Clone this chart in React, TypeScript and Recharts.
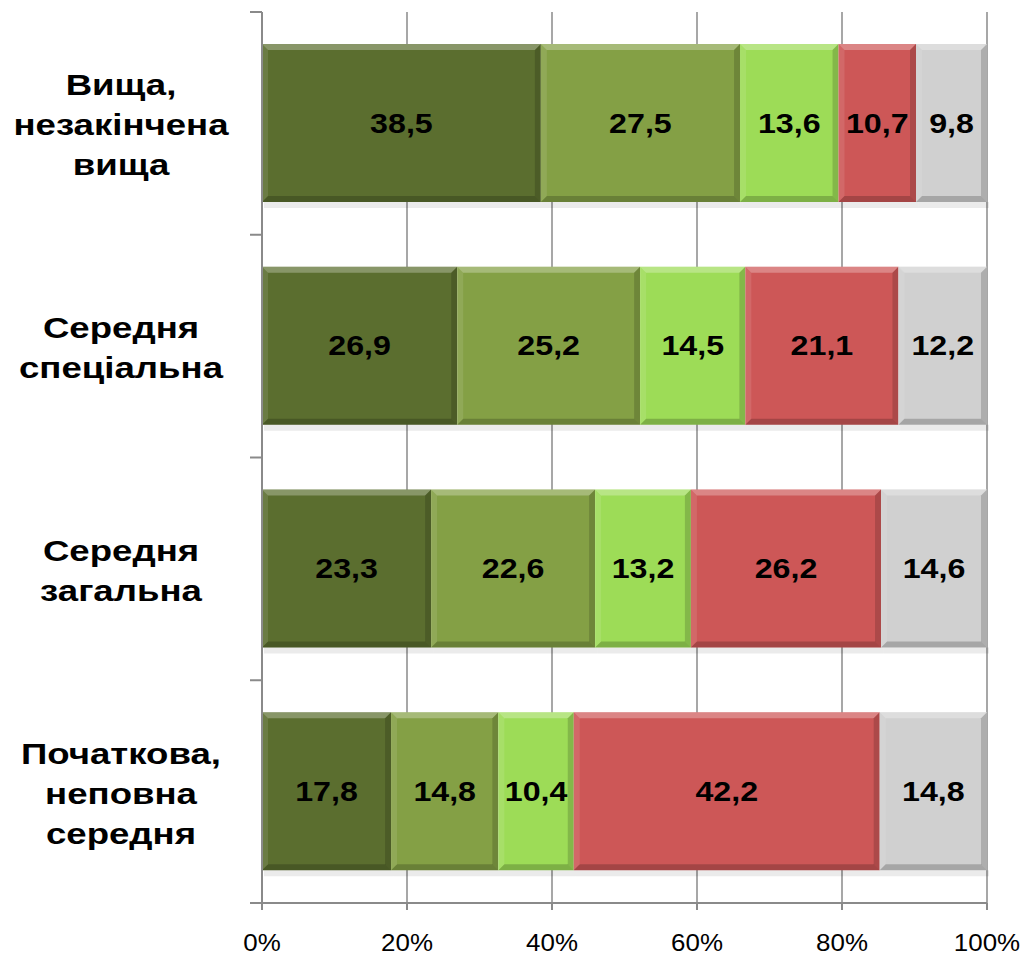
import { BarChart, Bar, XAxis, YAxis, CartesianGrid, LabelList } from "recharts";

const categories = [
  ["Вища,", "незакінчена", "вища"],
  ["Середня", "спеціальна"],
  ["Середня", "загальна"],
  ["Початкова,", "неповна", "середня"],
];

const s1 = [38.5, 26.9, 23.3, 17.8];
const s2 = [27.5, 25.2, 22.6, 14.8];
const s3 = [13.6, 14.5, 13.2, 10.4];
const s4 = [10.7, 21.1, 26.2, 42.2];
const s5 = [9.8, 12.2, 14.6, 14.8];

const xTicks = [0, 0.2, 0.4, 0.6, 0.8, 1];

const seriesKeys = ["s1", "s2", "s3", "s4", "s5"];
const colors = ["#5b6e2f", "#84a045", "#9ddc57", "#cd5757", "#d0d0d0"];

const data = categories.map((lines, i) => ({
  name: lines.join(" "),
  lines,
  s1: s1[i],
  s2: s2[i],
  s3: s3[i],
  s4: s4[i],
  s5: s5[i],
}));

const FONT = '"Liberation Sans", Arial, sans-serif';
const AXIS = "#8a8a8a";
const W = 1024;
const H = 955;
const M = { top: 12, right: 37, bottom: 0, left: 0 };
const X_AXIS_H = 52;
const BAND = (H - M.top - M.bottom - X_AXIS_H) / categories.length;

function BevelBar(props: any) {
  const { x, y, width, height, fill } = props;
  if (!width || width <= 0) return null;
  const b = 6;
  return (
    <g>
      <rect x={x + 2} y={y + height} width={width} height={6} fill="#000" opacity={0.08} />
      <rect x={x} y={y} width={width} height={height} fill={fill} />
      <polygon
        points={`${x},${y} ${x + width},${y} ${x + width - b},${y + b} ${x + b},${y + b}`}
        fill="#fff"
        opacity={0.28}
      />
      <polygon
        points={`${x},${y} ${x + b},${y + b} ${x + b},${y + height - b} ${x},${y + height}`}
        fill="#fff"
        opacity={0.1}
      />
      <polygon
        points={`${x},${y + height} ${x + b},${y + height - b} ${x + width - b},${y + height - b} ${x + width},${y + height}`}
        fill="#000"
        opacity={0.2}
      />
      <polygon
        points={`${x + width},${y} ${x + width - b},${y + b} ${x + width - b},${y + height - b} ${x + width},${y + height}`}
        fill="#000"
        opacity={0.16}
      />
    </g>
  );
}

function CategoryTick(props: any) {
  const { y, payload, index } = props;
  const lines: string[] = data[index]?.lines ?? [String(payload.value)];
  const lh = 40;
  const startY = y - ((lines.length - 1) * lh) / 2 + 12;
  return (
    <g>
      <line x1={250} x2={262} y1={y - BAND / 2} y2={y - BAND / 2} stroke={AXIS} strokeWidth={2} />
      {index === categories.length - 1 && (
        <line x1={250} x2={262} y1={y + BAND / 2} y2={y + BAND / 2} stroke={AXIS} strokeWidth={2} />
      )}
      <text
        transform={`translate(121,0) scale(1.22,1)`}
        textAnchor="middle"
        fontFamily={FONT}
        fontWeight="bold"
        fontSize={30}
        fill="#000"
      >
        {lines.map((l, i) => (
          <tspan key={i} x={0} y={startY + i * lh}>
            {l}
          </tspan>
        ))}
      </text>
    </g>
  );
}

function PercentTick(props: any) {
  const { x, y, payload } = props;
  return (
    <text
      transform={`translate(${x},${y}) scale(1.08,1)`}
      textAnchor="middle"
      dy="0.71em"
      fontFamily={FONT}
      fontSize={24}
      fill="#000"
    >
      {`${Math.round(payload.value * 100)}%`}
    </text>
  );
}

function ValueLabel(props: any) {
  const { x, y, width, height, value } = props;
  const cx = x + width / 2;
  const cy = y + height / 2;
  return (
    <text
      transform={`translate(${cx},${cy}) scale(1.15,1)`}
      textAnchor="middle"
      dominantBaseline="central"
      fontFamily={FONT}
      fontWeight="bold"
      fontSize={28}
      fill="#000"
    >
      {String(value).replace(".", ",")}
    </text>
  );
}

export default function App() {
  return (
    <div style={{ position: "absolute", left: 0, top: 0, width: W, height: H, background: "#fff" }}>
      <BarChart
        width={W}
        height={H}
        data={data}
        layout="vertical"
        stackOffset="expand"
        barSize={158}
        margin={M}
      >
        <CartesianGrid horizontal={false} stroke={AXIS} strokeWidth={1.5} />
        <XAxis
          type="number"
          domain={[0, 1]}
          ticks={xTicks}
          height={X_AXIS_H}
          tickSize={7}
          tickMargin={24}
          axisLine={{ stroke: AXIS, strokeWidth: 2 }}
          tickLine={{ stroke: AXIS, strokeWidth: 2 }}
          tick={<PercentTick />}
        />
        <YAxis
          type="category"
          dataKey="name"
          width={262}
          axisLine={{ stroke: AXIS, strokeWidth: 2 }}
          tickLine={false}
          tick={<CategoryTick />}
        />
        {seriesKeys.map((k, i) => (
          <Bar key={k} dataKey={k} stackId="a" fill={colors[i]} shape={<BevelBar />} isAnimationActive={false}>
            <LabelList dataKey={k} position="center" content={<ValueLabel />} />
          </Bar>
        ))}
      </BarChart>
    </div>
  );
}
